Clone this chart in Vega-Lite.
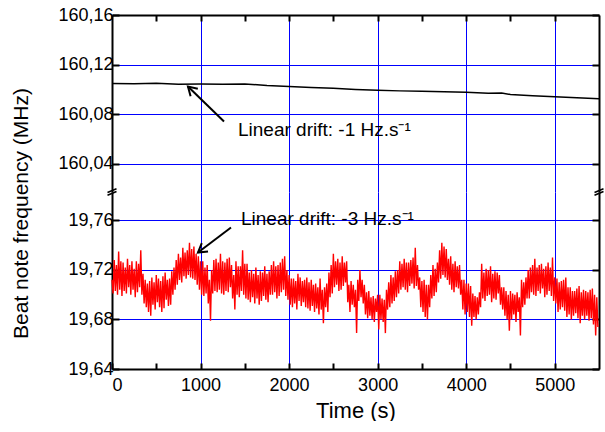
{
  "$schema": "https://vega.github.io/schema/vega-lite/v6.json",
  "padding": {"left": 10, "top": 6, "right": 0, "bottom": 0},
  "bounds": "flush",
  "background": "white",
  "title": {"text": "Beat note frequency (MHz)", "orient": "left", "anchor": "middle", "fontSize": 21, "font": "Liberation Sans", "fontWeight": "normal", "color": "black", "offset": 26},
  "spacing": 0,
  "config": {
    "font": "Liberation Sans",
    "view": {"stroke": null},
    "axis": {
      "labelFont": "Liberation Sans", "labelFontSize": 18, "labelColor": "black",
      "titleFont": "Liberation Sans", "titleFontSize": 22, "titleFontWeight": "normal", "titleColor": "black",
      "domainColor": "black", "domainWidth": 2, "tickColor": "black", "tickWidth": 2,
      "gridColor": "#0000ff", "gridWidth": 1
    }
  },
  "datasets": {
    "top": [
      {"t":0,"f":160.1046},{"t":250,"f":160.1044},{"t":500,"f":160.1048},{"t":750,"f":160.1041},{"t":1000,"f":160.1042},{"t":1250,"f":160.104},{"t":1500,"f":160.1043},{"t":1750,"f":160.103},{"t":2000,"f":160.1022},{"t":2250,"f":160.1015},{"t":2500,"f":160.1008},{"t":2750,"f":160.0999},{"t":3000,"f":160.0993},{"t":3250,"f":160.0987},{"t":3500,"f":160.0983},{"t":3750,"f":160.0979},{"t":4000,"f":160.0976},{"t":4250,"f":160.0968},{"t":4400,"f":160.0969},{"t":4500,"f":160.0958},{"t":4750,"f":160.0948},{"t":5000,"f":160.0939},{"t":5250,"f":160.0932},{"t":5500,"f":160.0923}
    ],
    "bottom": [
      {"t":0,"f":19.712},{"t":12.5,"f":19.701},{"t":25,"f":19.728},{"t":37.5,"f":19.703},{"t":50,"f":19.724},{"t":62.5,"f":19.7},{"t":75,"f":19.735},{"t":87.5,"f":19.704},{"t":100,"f":19.727},{"t":112.5,"f":19.699},{"t":125,"f":19.726},{"t":137.5,"f":19.703},{"t":150,"f":19.722},{"t":162.5,"f":19.701},{"t":175,"f":19.729},{"t":187.5,"f":19.706},{"t":200,"f":19.724},{"t":212.5,"f":19.7},{"t":225,"f":19.727},{"t":237.5,"f":19.704},{"t":250,"f":19.721},{"t":262.5,"f":19.698},{"t":275,"f":19.727},{"t":287.5,"f":19.702},{"t":300,"f":19.725},{"t":312.5,"f":19.706},{"t":325,"f":19.736},{"t":337.5,"f":19.7},{"t":350,"f":19.717},{"t":362.5,"f":19.693},{"t":375,"f":19.712},{"t":387.5,"f":19.69},{"t":400,"f":19.709},{"t":412.5,"f":19.686},{"t":425,"f":19.711},{"t":437.5,"f":19.683},{"t":450,"f":19.714},{"t":462.5,"f":19.692},{"t":475,"f":19.71},{"t":487.5,"f":19.688},{"t":500,"f":19.716},{"t":512.5,"f":19.694},{"t":525,"f":19.713},{"t":537.5,"f":19.69},{"t":550,"f":19.711},{"t":562.5,"f":19.686},{"t":575,"f":19.715},{"t":587.5,"f":19.689},{"t":600,"f":19.718},{"t":612.5,"f":19.696},{"t":625,"f":19.712},{"t":637.5,"f":19.691},{"t":650,"f":19.713},{"t":662.5,"f":19.692},{"t":675,"f":19.719},{"t":687.5,"f":19.7},{"t":700,"f":19.722},{"t":712.5,"f":19.704},{"t":725,"f":19.728},{"t":737.5,"f":19.708},{"t":750,"f":19.733},{"t":762.5,"f":19.712},{"t":775,"f":19.73},{"t":787.5,"f":19.71},{"t":800,"f":19.738},{"t":812.5,"f":19.715},{"t":825,"f":19.734},{"t":837.5,"f":19.713},{"t":850,"f":19.736},{"t":862.5,"f":19.716},{"t":875,"f":19.742},{"t":887.5,"f":19.714},{"t":900,"f":19.737},{"t":912.5,"f":19.713},{"t":925,"f":19.739},{"t":937.5,"f":19.712},{"t":950,"f":19.733},{"t":962.5,"f":19.708},{"t":975,"f":19.731},{"t":987.5,"f":19.704},{"t":1000,"f":19.727},{"t":1012.5,"f":19.7},{"t":1025,"f":19.727},{"t":1037.5,"f":19.699},{"t":1050,"f":19.722},{"t":1062.5,"f":19.701},{"t":1075,"f":19.724},{"t":1087.5,"f":19.693},{"t":1100,"f":19.712},{"t":1112.5,"f":19.679},{"t":1125,"f":19.72},{"t":1137.5,"f":19.701},{"t":1150,"f":19.728},{"t":1162.5,"f":19.703},{"t":1175,"f":19.729},{"t":1187.5,"f":19.702},{"t":1200,"f":19.726},{"t":1212.5,"f":19.704},{"t":1225,"f":19.733},{"t":1237.5,"f":19.701},{"t":1250,"f":19.727},{"t":1262.5,"f":19.7},{"t":1275,"f":19.726},{"t":1287.5,"f":19.703},{"t":1300,"f":19.729},{"t":1312.5,"f":19.702},{"t":1325,"f":19.73},{"t":1337.5,"f":19.706},{"t":1350,"f":19.724},{"t":1362.5,"f":19.697},{"t":1375,"f":19.716},{"t":1387.5,"f":19.688},{"t":1400,"f":19.727},{"t":1412.5,"f":19.7},{"t":1425,"f":19.723},{"t":1437.5,"f":19.698},{"t":1450,"f":19.723},{"t":1462.5,"f":19.703},{"t":1475,"f":19.736},{"t":1487.5,"f":19.7},{"t":1500,"f":19.725},{"t":1512.5,"f":19.697},{"t":1525,"f":19.725},{"t":1537.5,"f":19.696},{"t":1550,"f":19.718},{"t":1562.5,"f":19.694},{"t":1575,"f":19.72},{"t":1587.5,"f":19.698},{"t":1600,"f":19.717},{"t":1612.5,"f":19.693},{"t":1625,"f":19.722},{"t":1637.5,"f":19.697},{"t":1650,"f":19.716},{"t":1662.5,"f":19.692},{"t":1675,"f":19.719},{"t":1687.5,"f":19.695},{"t":1700,"f":19.718},{"t":1712.5,"f":19.699},{"t":1725,"f":19.723},{"t":1737.5,"f":19.696},{"t":1750,"f":19.717},{"t":1762.5,"f":19.694},{"t":1775,"f":19.719},{"t":1787.5,"f":19.7},{"t":1800,"f":19.724},{"t":1812.5,"f":19.7},{"t":1825,"f":19.727},{"t":1837.5,"f":19.702},{"t":1850,"f":19.723},{"t":1862.5,"f":19.697},{"t":1875,"f":19.724},{"t":1887.5,"f":19.699},{"t":1900,"f":19.726},{"t":1912.5,"f":19.702},{"t":1925,"f":19.729},{"t":1937.5,"f":19.704},{"t":1950,"f":19.731},{"t":1962.5,"f":19.699},{"t":1975,"f":19.72},{"t":1987.5,"f":19.696},{"t":2000,"f":19.716},{"t":2012.5,"f":19.692},{"t":2025,"f":19.713},{"t":2037.5,"f":19.69},{"t":2050,"f":19.713},{"t":2062.5,"f":19.693},{"t":2075,"f":19.711},{"t":2087.5,"f":19.688},{"t":2100,"f":19.717},{"t":2112.5,"f":19.695},{"t":2125,"f":19.714},{"t":2137.5,"f":19.691},{"t":2150,"f":19.711},{"t":2162.5,"f":19.694},{"t":2175,"f":19.712},{"t":2187.5,"f":19.69},{"t":2200,"f":19.714},{"t":2212.5,"f":19.689},{"t":2225,"f":19.71},{"t":2237.5,"f":19.687},{"t":2250,"f":19.712},{"t":2262.5,"f":19.691},{"t":2275,"f":19.708},{"t":2287.5,"f":19.686},{"t":2300,"f":19.709},{"t":2312.5,"f":19.689},{"t":2325,"f":19.706},{"t":2337.5,"f":19.684},{"t":2350,"f":19.713},{"t":2362.5,"f":19.688},{"t":2375,"f":19.704},{"t":2387.5,"f":19.677},{"t":2400,"f":19.706},{"t":2412.5,"f":19.69},{"t":2425,"f":19.709},{"t":2437.5,"f":19.686},{"t":2450,"f":19.718},{"t":2462.5,"f":19.698},{"t":2475,"f":19.724},{"t":2487.5,"f":19.701},{"t":2500,"f":19.733},{"t":2512.5,"f":19.706},{"t":2525,"f":19.727},{"t":2537.5,"f":19.708},{"t":2550,"f":19.729},{"t":2562.5,"f":19.703},{"t":2575,"f":19.726},{"t":2587.5,"f":19.704},{"t":2600,"f":19.731},{"t":2612.5,"f":19.707},{"t":2625,"f":19.726},{"t":2637.5,"f":19.71},{"t":2650,"f":19.727},{"t":2662.5,"f":19.694},{"t":2675,"f":19.708},{"t":2687.5,"f":19.686},{"t":2700,"f":19.711},{"t":2712.5,"f":19.692},{"t":2725,"f":19.708},{"t":2737.5,"f":19.69},{"t":2750,"f":19.704},{"t":2762.5,"f":19.669},{"t":2775,"f":19.712},{"t":2787.5,"f":19.695},{"t":2800,"f":19.72},{"t":2812.5,"f":19.698},{"t":2825,"f":19.712},{"t":2837.5,"f":19.693},{"t":2850,"f":19.708},{"t":2862.5,"f":19.684},{"t":2875,"f":19.702},{"t":2887.5,"f":19.681},{"t":2900,"f":19.703},{"t":2912.5,"f":19.683},{"t":2925,"f":19.698},{"t":2937.5,"f":19.68},{"t":2950,"f":19.699},{"t":2962.5,"f":19.678},{"t":2975,"f":19.697},{"t":2987.5,"f":19.686},{"t":3000,"f":19.7},{"t":3012.5,"f":19.672},{"t":3025,"f":19.7},{"t":3037.5,"f":19.68},{"t":3050,"f":19.697},{"t":3062.5,"f":19.678},{"t":3075,"f":19.696},{"t":3087.5,"f":19.669},{"t":3100,"f":19.704},{"t":3112.5,"f":19.688},{"t":3125,"f":19.71},{"t":3137.5,"f":19.69},{"t":3150,"f":19.716},{"t":3162.5,"f":19.693},{"t":3175,"f":19.714},{"t":3187.5,"f":19.695},{"t":3200,"f":19.719},{"t":3212.5,"f":19.698},{"t":3225,"f":19.72},{"t":3237.5,"f":19.701},{"t":3250,"f":19.727},{"t":3262.5,"f":19.704},{"t":3275,"f":19.725},{"t":3287.5,"f":19.706},{"t":3300,"f":19.729},{"t":3312.5,"f":19.704},{"t":3325,"f":19.726},{"t":3337.5,"f":19.702},{"t":3350,"f":19.726},{"t":3362.5,"f":19.707},{"t":3375,"f":19.728},{"t":3387.5,"f":19.709},{"t":3400,"f":19.73},{"t":3412.5,"f":19.705},{"t":3425,"f":19.738},{"t":3437.5,"f":19.707},{"t":3450,"f":19.724},{"t":3462.5,"f":19.704},{"t":3475,"f":19.714},{"t":3487.5,"f":19.69},{"t":3500,"f":19.711},{"t":3512.5,"f":19.686},{"t":3525,"f":19.712},{"t":3537.5,"f":19.682},{"t":3550,"f":19.708},{"t":3562.5,"f":19.68},{"t":3575,"f":19.708},{"t":3587.5,"f":19.69},{"t":3600,"f":19.716},{"t":3612.5,"f":19.697},{"t":3625,"f":19.724},{"t":3637.5,"f":19.699},{"t":3650,"f":19.721},{"t":3662.5,"f":19.702},{"t":3675,"f":19.726},{"t":3687.5,"f":19.71},{"t":3700,"f":19.736},{"t":3712.5,"f":19.713},{"t":3725,"f":19.742},{"t":3737.5,"f":19.716},{"t":3750,"f":19.739},{"t":3762.5,"f":19.714},{"t":3775,"f":19.737},{"t":3787.5,"f":19.712},{"t":3800,"f":19.729},{"t":3812.5,"f":19.708},{"t":3825,"f":19.731},{"t":3837.5,"f":19.704},{"t":3850,"f":19.725},{"t":3862.5,"f":19.702},{"t":3875,"f":19.727},{"t":3887.5,"f":19.706},{"t":3900,"f":19.723},{"t":3912.5,"f":19.705},{"t":3925,"f":19.724},{"t":3937.5,"f":19.7},{"t":3950,"f":19.712},{"t":3962.5,"f":19.688},{"t":3975,"f":19.712},{"t":3987.5,"f":19.684},{"t":4000,"f":19.709},{"t":4012.5,"f":19.686},{"t":4025,"f":19.709},{"t":4037.5,"f":19.682},{"t":4050,"f":19.707},{"t":4062.5,"f":19.675},{"t":4075,"f":19.701},{"t":4087.5,"f":19.682},{"t":4100,"f":19.699},{"t":4112.5,"f":19.68},{"t":4125,"f":19.698},{"t":4137.5,"f":19.684},{"t":4150,"f":19.702},{"t":4162.5,"f":19.69},{"t":4175,"f":19.725},{"t":4187.5,"f":19.697},{"t":4200,"f":19.718},{"t":4212.5,"f":19.695},{"t":4225,"f":19.721},{"t":4237.5,"f":19.699},{"t":4250,"f":19.72},{"t":4262.5,"f":19.7},{"t":4275,"f":19.723},{"t":4287.5,"f":19.694},{"t":4300,"f":19.717},{"t":4312.5,"f":19.697},{"t":4325,"f":19.719},{"t":4337.5,"f":19.696},{"t":4350,"f":19.718},{"t":4362.5,"f":19.701},{"t":4375,"f":19.716},{"t":4387.5,"f":19.692},{"t":4400,"f":19.706},{"t":4412.5,"f":19.688},{"t":4425,"f":19.706},{"t":4437.5,"f":19.683},{"t":4450,"f":19.703},{"t":4462.5,"f":19.68},{"t":4475,"f":19.7},{"t":4487.5,"f":19.671},{"t":4500,"f":19.703},{"t":4512.5,"f":19.68},{"t":4525,"f":19.701},{"t":4537.5,"f":19.684},{"t":4550,"f":19.7},{"t":4562.5,"f":19.678},{"t":4575,"f":19.702},{"t":4587.5,"f":19.686},{"t":4600,"f":19.698},{"t":4612.5,"f":19.667},{"t":4625,"f":19.712},{"t":4637.5,"f":19.69},{"t":4650,"f":19.71},{"t":4662.5,"f":19.692},{"t":4675,"f":19.714},{"t":4687.5,"f":19.697},{"t":4700,"f":19.72},{"t":4712.5,"f":19.697},{"t":4725,"f":19.722},{"t":4737.5,"f":19.702},{"t":4750,"f":19.724},{"t":4762.5,"f":19.7},{"t":4775,"f":19.729},{"t":4787.5,"f":19.699},{"t":4800,"f":19.722},{"t":4812.5,"f":19.703},{"t":4825,"f":19.724},{"t":4837.5,"f":19.701},{"t":4850,"f":19.725},{"t":4862.5,"f":19.705},{"t":4875,"f":19.721},{"t":4887.5,"f":19.698},{"t":4900,"f":19.723},{"t":4912.5,"f":19.7},{"t":4925,"f":19.726},{"t":4937.5,"f":19.703},{"t":4950,"f":19.722},{"t":4962.5,"f":19.699},{"t":4975,"f":19.73},{"t":4987.5,"f":19.695},{"t":5000,"f":19.714},{"t":5012.5,"f":19.693},{"t":5025,"f":19.713},{"t":5037.5,"f":19.686},{"t":5050,"f":19.71},{"t":5062.5,"f":19.688},{"t":5075,"f":19.711},{"t":5087.5,"f":19.69},{"t":5100,"f":19.712},{"t":5112.5,"f":19.687},{"t":5125,"f":19.714},{"t":5137.5,"f":19.682},{"t":5150,"f":19.706},{"t":5162.5,"f":19.684},{"t":5175,"f":19.706},{"t":5187.5,"f":19.68},{"t":5200,"f":19.703},{"t":5212.5,"f":19.683},{"t":5225,"f":19.703},{"t":5237.5,"f":19.685},{"t":5250,"f":19.705},{"t":5262.5,"f":19.681},{"t":5275,"f":19.707},{"t":5287.5,"f":19.677},{"t":5300,"f":19.702},{"t":5312.5,"f":19.683},{"t":5325,"f":19.704},{"t":5337.5,"f":19.68},{"t":5350,"f":19.703},{"t":5362.5,"f":19.683},{"t":5375,"f":19.702},{"t":5387.5,"f":19.679},{"t":5400,"f":19.704},{"t":5412.5,"f":19.681},{"t":5425,"f":19.705},{"t":5437.5,"f":19.676},{"t":5450,"f":19.7},{"t":5462.5,"f":19.667},{"t":5475,"f":19.698},{"t":5487.5,"f":19.674}
    ],
    "annTop": [{"tx":1423,"ty":160.0667,"label":"Linear drift: -1 Hz.s⁻¹","ax":1265,"ay":160.074,"hx":858,"hy":160.1022}],
    "annBottom": [{"tx":1457,"ty":19.7608,"label":"Linear drift: -3 Hz.s⁻¹","ax":1344,"ay":19.7543,"hx":971,"hy":19.7341}]
  },
  "vconcat": [
    {
      "width": 487, "height": 177,
      "layer": [
        {
          "data": {"name": "top"},
          "mark": {"type": "line", "color": "black", "strokeWidth": 1.5},
          "encoding": {
            "x": {"field": "t", "type": "quantitative", "scale": {"domain": [0, 5500], "nice": false},
              "axis": {"orient": "top", "values": [500, 1000, 1500, 2000, 2500, 3000, 3500, 4000, 4500, 5000], "labels": false, "title": null, "grid": true, "tickSize": -6,
                "gridOpacity": {"condition": {"test": "datum.value % 1000 == 0", "value": 1}, "value": 0}}},
            "y": {"field": "f", "type": "quantitative", "scale": {"domain": [160.017, 160.16], "nice": false, "zero": false},
              "axis": {"orient": "left", "values": [160.04, 160.08, 160.12, 160.16], "labelExpr": "replace(format(datum.value, '.2f'), '.', ',')", "title": null, "grid": true,
                "gridOpacity": {"condition": {"test": "datum.value > 160.15", "value": 0}, "value": 1},
                "tickSize": -7, "labelPadding": 6}}
          }
        },
        {
          "data": {"name": "top"},
          "mark": {"type": "line", "opacity": 0},
          "encoding": {
            "x": {"field": "t", "type": "quantitative", "scale": {"domain": [0, 5500], "nice": false}},
            "y": {"field": "f", "type": "quantitative", "scale": {"domain": [160.017, 160.16], "nice": false, "zero": false},
              "axis": {"orient": "right", "values": [160.04, 160.08, 160.12, 160.16], "labels": false, "title": null, "grid": false, "tickSize": -7}}
          }
        },
        {
          "data": {"name": "annTop"},
          "mark": {"type": "rule", "color": "black", "strokeWidth": 2},
          "encoding": {
            "x": {"field": "ax", "type": "quantitative", "scale": {"domain": [0, 5500], "nice": false}},
            "y": {"field": "ay", "type": "quantitative", "scale": {"domain": [160.017, 160.16], "nice": false, "zero": false}, "axis": null},
            "x2": {"field": "hx"}, "y2": {"field": "hy"}
          }
        },
        {
          "data": {"name": "annTop"},
          "mark": {"type": "point", "shape": "M-0.6,1L0,0L0.6,1", "filled": false, "stroke": "black", "strokeWidth": 2, "size": 300, "angle": 314, "opacity": 1},
          "encoding": {
            "x": {"field": "hx", "type": "quantitative", "scale": {"domain": [0, 5500], "nice": false}},
            "y": {"field": "hy", "type": "quantitative", "scale": {"domain": [160.017, 160.16], "nice": false, "zero": false}, "axis": null}
          }
        },
        {
          "data": {"name": "annTop"},
          "mark": {"type": "text", "align": "left", "baseline": "middle", "fontSize": 19, "font": "Liberation Sans", "color": "black"},
          "encoding": {
            "x": {"field": "tx", "type": "quantitative", "scale": {"domain": [0, 5500], "nice": false}},
            "y": {"field": "ty", "type": "quantitative", "scale": {"domain": [160.017, 160.16], "nice": false, "zero": false}, "axis": null},
            "text": {"field": "label"}
          }
        }
      ]
    },
    {
      "width": 487, "height": 177,
      "layer": [
        {
          "data": {"name": "bottom"},
          "mark": {"type": "line", "color": "#ff0000", "strokeWidth": 1.4},
          "encoding": {
            "x": {"field": "t", "type": "quantitative", "scale": {"domain": [0, 5500], "nice": false},
              "axis": {"orient": "bottom", "values": [0, 500, 1000, 1500, 2000, 2500, 3000, 3500, 4000, 4500, 5000], "title": "Time (s)", "grid": true,
                "labelExpr": "datum.value % 1000 == 0 ? datum.label : ''",
                "gridOpacity": {"condition": {"test": "datum.value % 1000 == 0 && datum.value > 0", "value": 1}, "value": 0},
                "tickSize": -6, "labelPadding": 13, "titlePadding": 6, "format": "d"}},
            "y": {"field": "f", "type": "quantitative", "scale": {"domain": [19.64, 19.783], "nice": false, "zero": false},
              "axis": {"orient": "left", "values": [19.64, 19.68, 19.72, 19.76], "labelExpr": "replace(format(datum.value, '.2f'), '.', ',')", "title": null, "grid": true,
                "gridOpacity": {"condition": {"test": "datum.value < 19.65", "value": 0}, "value": 1},
                "tickSize": -7, "labelPadding": 6}}
          }
        },
        {
          "data": {"name": "bottom"},
          "mark": {"type": "line", "opacity": 0},
          "encoding": {
            "x": {"field": "t", "type": "quantitative", "scale": {"domain": [0, 5500], "nice": false}},
            "y": {"field": "f", "type": "quantitative", "scale": {"domain": [19.64, 19.783], "nice": false, "zero": false},
              "axis": {"orient": "right", "values": [19.64, 19.68, 19.72, 19.76], "labels": false, "title": null, "grid": false, "tickSize": -7}}
          }
        },
        {
          "data": {"name": "annBottom"},
          "mark": {"type": "rule", "color": "black", "strokeWidth": 2},
          "encoding": {
            "x": {"field": "ax", "type": "quantitative", "scale": {"domain": [0, 5500], "nice": false}},
            "y": {"field": "ay", "type": "quantitative", "scale": {"domain": [19.64, 19.783], "nice": false, "zero": false}, "axis": null},
            "x2": {"field": "hx"}, "y2": {"field": "hy"}
          }
        },
        {
          "data": {"name": "annBottom"},
          "mark": {"type": "point", "shape": "M-0.6,1L0,0L0.6,1", "filled": false, "stroke": "black", "strokeWidth": 2, "size": 300, "angle": 233, "opacity": 1},
          "encoding": {
            "x": {"field": "hx", "type": "quantitative", "scale": {"domain": [0, 5500], "nice": false}},
            "y": {"field": "hy", "type": "quantitative", "scale": {"domain": [19.64, 19.783], "nice": false, "zero": false}, "axis": null}
          }
        },
        {
          "data": {"name": "annBottom"},
          "mark": {"type": "text", "align": "left", "baseline": "middle", "fontSize": 19, "font": "Liberation Sans", "color": "black"},
          "encoding": {
            "x": {"field": "tx", "type": "quantitative", "scale": {"domain": [0, 5500], "nice": false}},
            "y": {"field": "ty", "type": "quantitative", "scale": {"domain": [19.64, 19.783], "nice": false, "zero": false}, "axis": null},
            "text": {"field": "label"}
          }
        },
        {
          "data": {"values": [{"edge": 0}, {"edge": 5500}]},
          "mark": {"type": "point", "shape": "M-1,0.1L1,-0.7M-1,0.7L1,-0.1", "filled": false, "stroke": "black", "strokeWidth": 1.6, "size": 81, "opacity": 1},
          "encoding": {
            "x": {"field": "edge", "type": "quantitative", "scale": {"domain": [0, 5500], "nice": false}},
            "y": {"datum": 19.783, "type": "quantitative", "scale": {"domain": [19.64, 19.783], "nice": false, "zero": false}, "axis": null}
          }
        }
      ]
    }
  ]
}
